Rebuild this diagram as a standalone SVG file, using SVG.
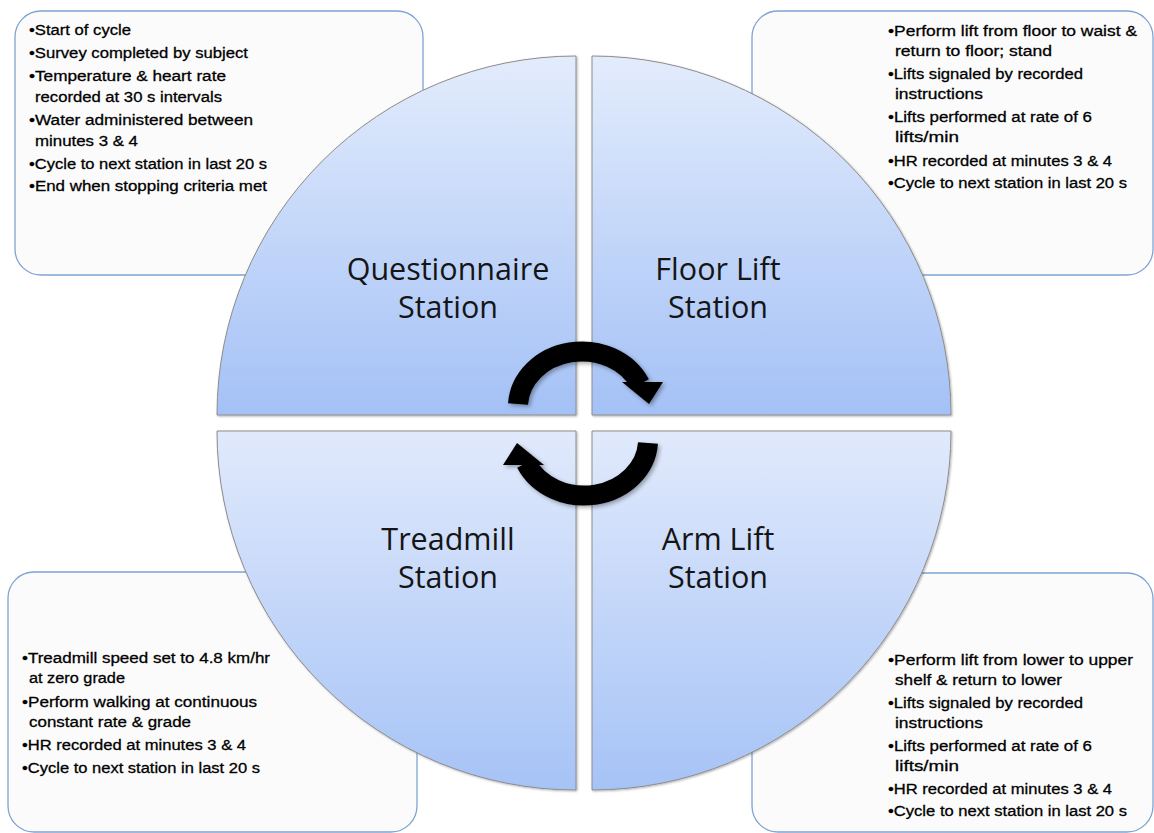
<svg xmlns="http://www.w3.org/2000/svg" width="1154" height="833" viewBox="0 0 1154 833">
  <style>
    .box { fill: #fbfbfb; stroke: #7fa3d3; stroke-width: 1.3; }
    .quad { stroke: #8c8c8c; stroke-width: 1; filter: url(#qshadow); }
    .top { fill: url(#gradTop); }
    .bot { fill: url(#gradBot); }
    .note { font-family: "Liberation Sans", Arial, sans-serif; font-size: 15.5px; fill: #000; stroke: #000; stroke-width: 0.3; }
    .label { font-family: "Open Sans", "Liberation Sans", sans-serif; font-size: 30.5px; fill: #151515; text-anchor: middle; }
  </style>
  <defs>
    <linearGradient id="gradTop" x1="0" y1="0" x2="0" y2="1">
      <stop offset="0" stop-color="#e3ecfc"/>
      <stop offset="1" stop-color="#a4c1f6"/>
    </linearGradient>
    <linearGradient id="gradBot" x1="0" y1="0" x2="0" y2="1">
      <stop offset="0" stop-color="#e1eafc"/>
      <stop offset="1" stop-color="#a6c3f6"/>
    </linearGradient>
    <filter id="qshadow" x="-5%" y="-5%" width="110%" height="110%">
      <feDropShadow dx="1" dy="1" stdDeviation="1.2" flood-color="#000" flood-opacity="0.3"/>
    </filter>
    <filter id="ashadow" x="-20%" y="-20%" width="140%" height="140%">
      <feDropShadow dx="2" dy="2" stdDeviation="2" flood-color="#000" flood-opacity="0.35"/>
    </filter>
  </defs>

  <!-- note boxes (drawn behind the wheel) -->
  <g id="note-questionnaire">
    <rect class="box" x="15" y="11" width="408" height="264" rx="26"/>
    <text class="note">
      <tspan x="29" y="35" textLength="102" lengthAdjust="spacingAndGlyphs">•Start of cycle</tspan>
      <tspan x="29" y="58" textLength="219" lengthAdjust="spacingAndGlyphs">•Survey completed by subject</tspan>
      <tspan x="29" y="81" textLength="197" lengthAdjust="spacingAndGlyphs">•Temperature &amp; heart rate</tspan>
      <tspan x="35" y="102" textLength="187" lengthAdjust="spacingAndGlyphs">recorded at 30 s intervals</tspan>
      <tspan x="29" y="125" textLength="224" lengthAdjust="spacingAndGlyphs">•Water administered between</tspan>
      <tspan x="35" y="146" textLength="103" lengthAdjust="spacingAndGlyphs">minutes 3 &amp; 4</tspan>
      <tspan x="29" y="169" textLength="238" lengthAdjust="spacingAndGlyphs">•Cycle to next station in last 20 s</tspan>
      <tspan x="29" y="191" textLength="238" lengthAdjust="spacingAndGlyphs">•End when stopping criteria met</tspan>
    </text>
  </g>

  <g id="note-floorlift">
    <rect class="box" x="752" y="11" width="401" height="264" rx="26"/>
    <text class="note">
      <tspan x="888" y="36" textLength="249" lengthAdjust="spacingAndGlyphs">•Perform lift from floor to waist &amp;</tspan>
      <tspan x="895" y="56" textLength="157" lengthAdjust="spacingAndGlyphs">return to floor; stand</tspan>
      <tspan x="888" y="79" textLength="195" lengthAdjust="spacingAndGlyphs">•Lifts signaled by recorded</tspan>
      <tspan x="895" y="99" textLength="88" lengthAdjust="spacingAndGlyphs">instructions</tspan>
      <tspan x="888" y="122" textLength="204" lengthAdjust="spacingAndGlyphs">•Lifts performed at rate of 6</tspan>
      <tspan x="895" y="142" textLength="64" lengthAdjust="spacingAndGlyphs">lifts/min</tspan>
      <tspan x="888" y="166" textLength="224" lengthAdjust="spacingAndGlyphs">•HR recorded at minutes 3 &amp; 4</tspan>
      <tspan x="888" y="188" textLength="239" lengthAdjust="spacingAndGlyphs">•Cycle to next station in last 20 s</tspan>
    </text>
  </g>

  <g id="note-treadmill">
    <rect class="box" x="8" y="572" width="409" height="260" rx="26"/>
    <text class="note">
      <tspan x="22" y="663" textLength="248" lengthAdjust="spacingAndGlyphs">•Treadmill speed set to 4.8 km/hr</tspan>
      <tspan x="29" y="683" textLength="96" lengthAdjust="spacingAndGlyphs">at zero grade</tspan>
      <tspan x="22" y="707" textLength="235" lengthAdjust="spacingAndGlyphs">•Perform walking at continuous</tspan>
      <tspan x="29" y="727" textLength="162" lengthAdjust="spacingAndGlyphs">constant rate &amp; grade</tspan>
      <tspan x="22" y="750" textLength="224" lengthAdjust="spacingAndGlyphs">•HR recorded at minutes 3 &amp; 4</tspan>
      <tspan x="22" y="773" textLength="238" lengthAdjust="spacingAndGlyphs">•Cycle to next station in last 20 s</tspan>
    </text>
  </g>

  <g id="note-armlift">
    <rect class="box" x="752" y="573" width="401" height="259" rx="26"/>
    <text class="note">
      <tspan x="888" y="665" textLength="245" lengthAdjust="spacingAndGlyphs">•Perform lift from lower to upper</tspan>
      <tspan x="895" y="685" textLength="167" lengthAdjust="spacingAndGlyphs">shelf &amp; return to lower</tspan>
      <tspan x="888" y="708" textLength="195" lengthAdjust="spacingAndGlyphs">•Lifts signaled by recorded</tspan>
      <tspan x="895" y="728" textLength="88" lengthAdjust="spacingAndGlyphs">instructions</tspan>
      <tspan x="888" y="751" textLength="204" lengthAdjust="spacingAndGlyphs">•Lifts performed at rate of 6</tspan>
      <tspan x="895" y="771" textLength="64" lengthAdjust="spacingAndGlyphs">lifts/min</tspan>
      <tspan x="888" y="794" textLength="224" lengthAdjust="spacingAndGlyphs">•HR recorded at minutes 3 &amp; 4</tspan>
      <tspan x="888" y="816" textLength="239" lengthAdjust="spacingAndGlyphs">•Cycle to next station in last 20 s</tspan>
    </text>
  </g>

  <!-- the four station quadrants -->
  <g id="station-questionnaire">
    <path class="quad top" d="M576,415 H217 A359,359 0 0 1 576,56 Z"/>
    <text class="label"><tspan x="448" y="280">Questionnaire</tspan><tspan x="448" y="318">Station</tspan></text>
  </g>
  <g id="station-floorlift">
    <path class="quad top" d="M592,415 V56 A359,359 0 0 1 951,415 Z"/>
    <text class="label"><tspan x="718" y="280">Floor Lift</tspan><tspan x="718" y="318">Station</tspan></text>
  </g>
  <g id="station-treadmill">
    <path class="quad bot" d="M576,431 V790 A359,359 0 0 1 217,431 Z"/>
    <text class="label"><tspan x="448" y="550">Treadmill</tspan><tspan x="448" y="588">Station</tspan></text>
  </g>
  <g id="station-armlift">
    <path class="quad bot" d="M592,431 H951 A359,359 0 0 1 592,790 Z"/>
    <text class="label"><tspan x="718" y="550">Arm Lift</tspan><tspan x="718" y="588">Station</tspan></text>
  </g>

  <!-- cycle arrows -->
  <g id="connectors" filter="url(#ashadow)">
    <g id="arrow-upper">
      <path d="M518,404 A64,56 0 0 1 640,384" fill="none" stroke="#000" stroke-width="20"/>
      <polygon points="622,382 663,382 649,404" fill="#000"/>
    </g>
    <use href="#arrow-upper" transform="rotate(180 583 423.5)"/>
  </g>
</svg>
